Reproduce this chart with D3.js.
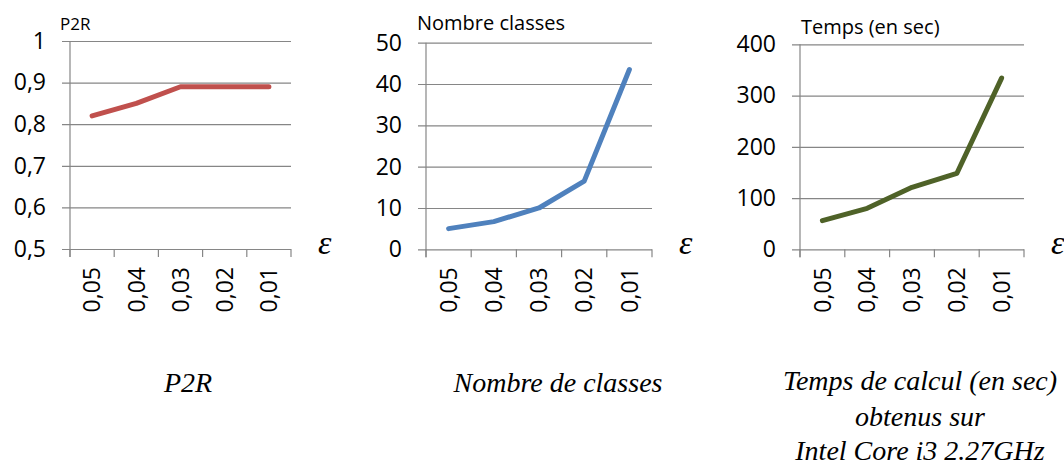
<!DOCTYPE html>
<html>
<head>
<meta charset="utf-8">
<script src="https://cdn.jsdelivr.net/npm/d3@7"></script>
<style>
  html, body { margin: 0; padding: 0; background: #fff; }
  svg { display: block; }
  .tick text { font-family: "Open Sans", sans-serif; fill: #000; }
</style>
</head>
<body>
<svg id="chart" width="1064" height="468"></svg>
<script>
// Epsilon values on the horizontal axis
const categories = ["0,05", "0,04", "0,03", "0,02", "0,01"];

// Measured series
const p2rValues   = [0.82, 0.85, 0.89, 0.89, 0.89];
const classValues = [5, 6.7, 10, 16.5, 43.5];
const timeValues  = [56, 80, 121, 148, 334];

// Vertical axis ticks
const p2rTicks   = [0.5, 0.6, 0.7, 0.8, 0.9, 1];
const classTicks = [0, 10, 20, 30, 40, 50];
const timeTicks  = [0, 100, 200, 300, 400];

// Small titles above each panel
const panelTitles = ["P2R", "Nombre classes", "Temps (en sec)"];

// Captions below each panel
const captions = [
  ["P2R"],
  ["Nombre de classes"],
  ["Temps de calcul (en sec)", "obtenus sur", "Intel Core i3 2.27GHz"]
];

const fr = d3.formatLocale({ decimal: ",", thousands: " ", grouping: [3], currency: ["", " €"] });
const fmt = fr.format("~g");

const svg = d3.select("#chart");
const gridColor = "#868686";

const panels = [
  { values: p2rValues,   ticks: p2rTicks,   domain: [0.5, 1], color: "#C0504D",
    x0: 70,  x1: 291,  yTop: 41,   yBot: 249,
    title: panelTitles[0], titleX: 60, titleY: 30, titleSize: 17,
    cap: captions[0], capX: 188, capY: [392] },
  { values: classValues, ticks: classTicks, domain: [0, 50],  color: "#4F81BD",
    x0: 426, x1: 652,  yTop: 42.7, yBot: 249.3,
    title: panelTitles[1], titleX: 417, titleY: 29.5, titleSize: 20,
    cap: captions[1], capX: 558, capY: [392] },
  { values: timeValues,  ticks: timeTicks,  domain: [0, 400], color: "#4F6228",
    x0: 800, x1: 1024, yTop: 44.3, yBot: 249.3,
    title: panelTitles[2], titleX: 801, titleY: 34, titleSize: 20,
    cap: captions[2], capX: 920, capY: [390, 426, 460] }
];

panels.forEach(p => {
  const g = svg.append("g");
  const x = d3.scaleBand().domain(categories).range([p.x0, p.x1]).padding(0);
  const y = d3.scaleLinear().domain(p.domain).range([p.yBot, p.yTop]);
  const w = p.x1 - p.x0;

  // Horizontal gridlines, starting a little left of the vertical axis
  const grid = g.append("g")
    .attr("transform", `translate(${p.x0 - 8},0)`)
    .call(d3.axisLeft(y).tickValues(p.ticks).tickSize(-(w + 8)).tickFormat(""));
  grid.select(".domain").remove();
  grid.selectAll(".tick line").attr("stroke", gridColor).attr("stroke-width", 1.2);

  // Vertical axis labels
  const yAxis = g.append("g")
    .attr("transform", `translate(${p.x0},0)`)
    .call(d3.axisLeft(y).tickValues(p.ticks).tickSize(0).tickPadding(24).tickFormat(fmt));
  yAxis.select(".domain").remove();
  yAxis.selectAll(".tick text").style("font-size", "23px");

  // Vertical axis line, running down to the category tick length
  g.append("line")
    .attr("x1", p.x0).attr("x2", p.x0)
    .attr("y1", y(p.domain[1])).attr("y2", p.yBot + 8)
    .attr("stroke", gridColor).attr("stroke-width", 1.2);

  // Category boundary ticks
  const bounds = categories.map(c => x(c)).concat([p.x1]);
  g.selectAll("line.cat-tick").data(bounds).join("line")
    .attr("class", "cat-tick")
    .attr("x1", d => d).attr("x2", d => d)
    .attr("y1", p.yBot).attr("y2", p.yBot + 8)
    .attr("stroke", gridColor).attr("stroke-width", 1.2);

  // Rotated category labels
  const xAxis = g.append("g")
    .attr("transform", `translate(0,${p.yBot})`)
    .call(d3.axisBottom(x).tickSize(0));
  xAxis.select(".domain").remove();
  xAxis.selectAll(".tick text")
    .style("font-size", "23px")
    .attr("transform", "rotate(-90)")
    .attr("text-anchor", "end")
    .attr("x", -18)
    .attr("y", 0)
    .attr("dy", "0.36em");

  // Series line
  const line = d3.line()
    .x((d, i) => x(categories[i]) + x.bandwidth() / 2)
    .y(d => y(d));
  g.append("path")
    .datum(p.values)
    .attr("d", line)
    .attr("fill", "none")
    .attr("stroke", p.color)
    .attr("stroke-width", 5)
    .attr("stroke-linejoin", "round")
    .attr("stroke-linecap", "round");

  // Panel title
  g.append("text")
    .attr("x", p.titleX).attr("y", p.titleY)
    .style("font-family", "'Open Sans', sans-serif")
    .style("font-size", p.titleSize + "px")
    .text(p.title);

  // Epsilon axis symbol
  g.append("text")
    .attr("x", p.x1 + 27).attr("y", p.yBot + 5)
    .style("font-family", "'Liberation Serif', 'DejaVu Serif', serif")
    .style("font-style", "italic")
    .style("font-size", "34px")
    .text("ε");

  // Caption
  g.selectAll("text.caption").data(p.cap).join("text")
    .attr("class", "caption")
    .attr("x", p.capX)
    .attr("y", (d, i) => p.capY[i])
    .attr("text-anchor", "middle")
    .style("font-family", "'Liberation Serif', 'Times New Roman', serif")
    .style("font-style", "italic")
    .style("font-size", "28px")
    .text(d => d);
});
</script>
</body>
</html>
